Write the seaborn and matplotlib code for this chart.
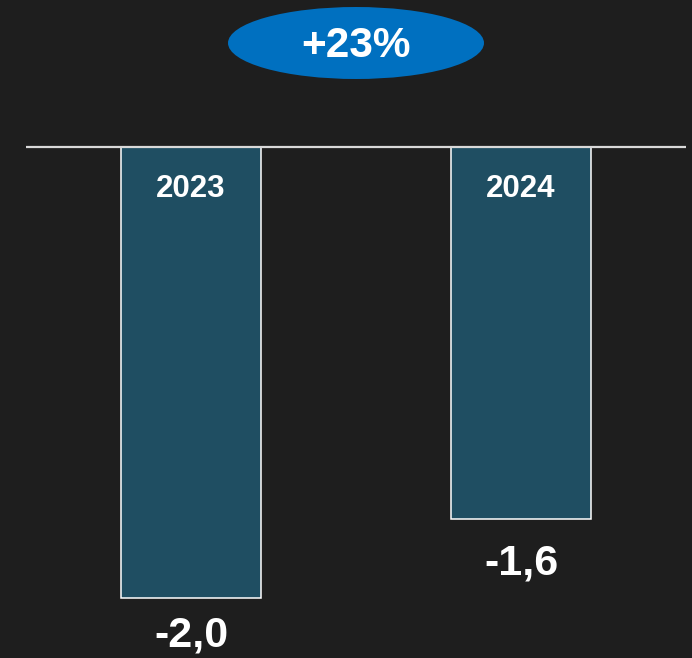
import matplotlib
matplotlib.use("Agg")
import matplotlib.pyplot as plt
import seaborn as sns
import pandas as pd
from matplotlib.patches import Ellipse

years = ["2023", "2024"]
values = [-2.0, -1.65]
value_labels = ["-2,0", "-1,6"]
change_label = "+23%"

bg = "#1e1e1e"
bar_color = "#1f4e62"

sns.set_theme(style="dark")
plt.rcParams["font.family"] = ["Liberation Sans", "DejaVu Sans"]

fig = plt.figure(figsize=(6.92, 6.58), dpi=100, facecolor=bg)
ax = fig.add_axes([26 / 692, 0, 660 / 692, 1])
ax.set_facecolor(bg)

df = pd.DataFrame({"year": years, "value": values})
sns.barplot(data=df, x="year", y="value", color=bar_color, saturation=1,
            width=0.424, edgecolor="white", linewidth=1.1, ax=ax, zorder=2)

ax.set_xlim(-0.5, 1.5)
ax.set_ylim(-(658 - 147) / 225.5, 147 / 225.5)
ax.axhline(0, color="#d9d9d9", lw=1.6, zorder=3)

label_offsets = [0.166, 0.198]
for i, (y, v, lab) in enumerate(zip(years, values, value_labels)):
    ax.text(i, -0.185, y, ha="center", va="center", color="white",
            fontsize=22.5, fontweight="bold", zorder=4)
    ax.text(i, v - label_offsets[i], lab, ha="center", va="center", color="white",
            fontsize=31, fontweight="bold", zorder=4)

ell = Ellipse((0.5, 615 / 658), 256 / 660, 72 / 658, transform=ax.transAxes,
              facecolor="#0070c0", edgecolor="none", zorder=5, clip_on=False)
ax.add_patch(ell)
ax.text(0.5, 612 / 658, change_label, transform=ax.transAxes, ha="center",
        va="center", color="white", fontsize=30.5, fontweight="bold", zorder=6)

ax.set_xlabel("")
ax.set_ylabel("")
ax.set_xticks([])
ax.set_yticks([])
for s in ax.spines.values():
    s.set_visible(False)
ax.grid(False)

fig.savefig("out.png", dpi=100, facecolor=bg)
